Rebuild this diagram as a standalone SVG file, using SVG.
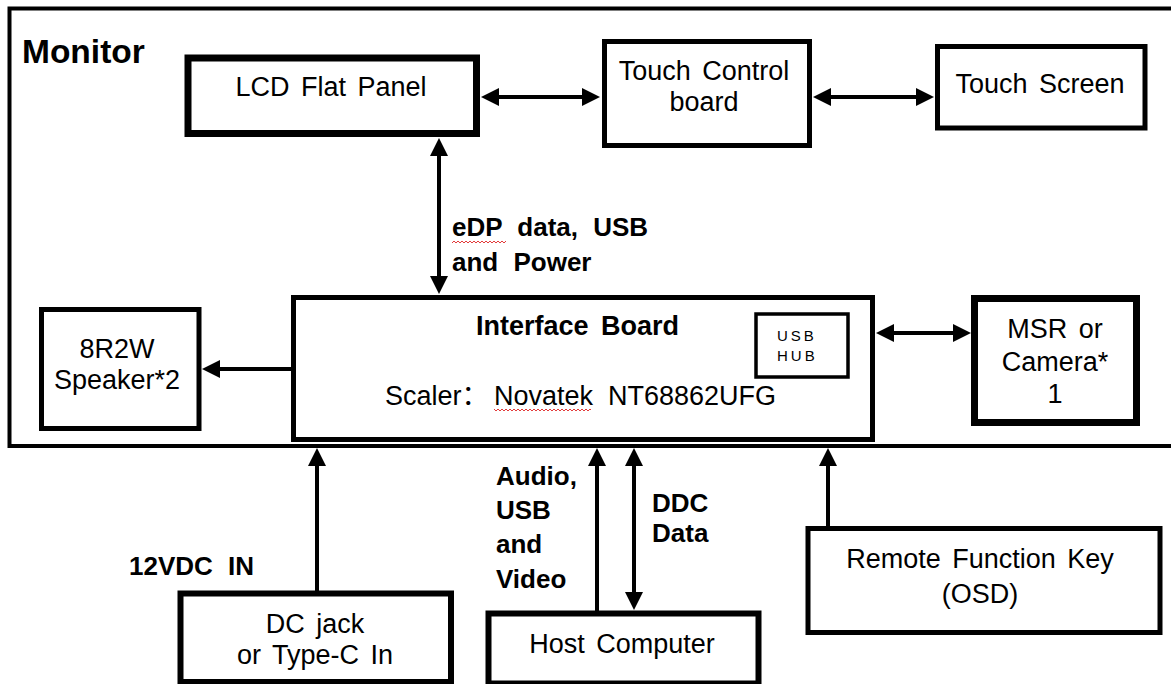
<svg xmlns="http://www.w3.org/2000/svg" width="1171" height="684" viewBox="0 0 1171 684">
<style>
text { font-family: "Liberation Sans", Arial, "Noto Sans CJK SC", sans-serif; fill: #000; }
.t { font-size: 27px; word-spacing: 4px; }
.c { text-anchor: middle; }
.b { font-weight: bold; font-size: 26px; word-spacing: 8px; }
.box { fill: #fff; stroke: #000; }
.conn line { stroke: #000; stroke-width: 4; }
</style>
<defs>
<marker id="ah" markerUnits="userSpaceOnUse" markerWidth="18" markerHeight="18" viewBox="0 0 18 18" refX="8" refY="9" orient="auto-start-reverse">
<path d="M0,0 L18,9 L0,18 Z" fill="#000"/>
</marker>
<pattern id="wave" patternUnits="userSpaceOnUse" width="4" height="4">
<path d="M0,3 L2,1 L4,3" fill="none" stroke="#e23b3b" stroke-width="1"/>
</pattern>
</defs>
<rect width="1171" height="684" fill="#fff"/>

<g id="monitor">
<rect x="9.5" y="8.5" width="1190" height="437.5" fill="none" stroke="#000" stroke-width="4"/>
<text x="22" y="63" style="font-weight:bold;font-size:33.5px">Monitor</text>
</g>

<g id="lcd">
<rect class="box" x="188" y="58" width="288.5" height="75.5" stroke-width="7"/>
<text class="t c" x="331" y="96">LCD Flat Panel</text>
</g>

<g id="touch-control">
<rect class="box" x="604.5" y="41.5" width="205" height="104" stroke-width="5"/>
<text class="t c" x="704" y="80">Touch Control</text>
<text class="t c" x="704" y="111">board</text>
</g>

<g id="touch-screen">
<rect class="box" x="937.5" y="46.5" width="207.5" height="81.5" stroke-width="5"/>
<text class="t c" x="1040" y="93">Touch Screen</text>
</g>

<g id="speaker">
<rect class="box" x="41.5" y="309.5" width="157.5" height="119" stroke-width="5"/>
<text class="t c" x="117" y="358">8R2W</text>
<text class="t c" x="117" y="389">Speaker*2</text>
</g>

<g id="interface-board">
<rect class="box" x="293.5" y="297.5" width="579" height="142" stroke-width="5"/>
<text x="476" y="335" style="font-weight:bold;font-size:27px;word-spacing:5px">Interface Board</text>
<text class="t" y="405"><tspan x="385">Scaler：</tspan><tspan x="494">Novatek</tspan><tspan x="608">NT68862UFG</tspan></text>
<rect x="494" y="408" width="97" height="4" fill="url(#wave)"/>
</g>

<g id="usb-hub">
<rect class="box" x="756" y="314" width="92" height="63" stroke-width="3.5"/>
<text x="777" y="341" style="font-size:15px;letter-spacing:3px">USB</text>
<text x="777" y="361" style="font-size:15px;letter-spacing:3px">HUB</text>
</g>

<g id="msr-camera">
<rect class="box" x="974.5" y="298.5" width="162" height="124" stroke-width="7"/>
<text class="t c" x="1055" y="338">MSR or</text>
<text class="t c" x="1055" y="371">Camera*</text>
<text class="t c" x="1055" y="403">1</text>
</g>

<g id="dc-jack">
<rect class="box" x="180.5" y="593.5" width="270.5" height="88.5" stroke-width="6"/>
<text class="t c" x="315" y="633">DC jack</text>
<text class="t c" x="315" y="664">or Type-C In</text>
</g>

<g id="host-computer">
<rect class="box" x="488.5" y="613.5" width="270" height="70" stroke-width="6"/>
<text class="t c" x="622" y="653">Host Computer</text>
</g>

<g id="remote-key">
<rect class="box" x="808" y="528.5" width="352" height="104" stroke-width="5"/>
<text class="t c" x="980" y="568">Remote Function Key</text>
<text class="t c" x="980" y="603">(OSD)</text>
</g>

<g id="connectors" class="conn">
<line x1="491" y1="97" x2="590" y2="97" marker-start="url(#ah)" marker-end="url(#ah)"/>
<line x1="823" y1="97" x2="924" y2="97" marker-start="url(#ah)" marker-end="url(#ah)"/>
<line x1="439" y1="148" x2="439" y2="284" marker-start="url(#ah)" marker-end="url(#ah)"/>
<line x1="292" y1="369" x2="212" y2="369" marker-end="url(#ah)"/>
<line x1="886" y1="333" x2="961" y2="333" marker-start="url(#ah)" marker-end="url(#ah)"/>
<line x1="317" y1="592" x2="317" y2="458" marker-end="url(#ah)"/>
<line x1="597" y1="612" x2="597" y2="458" marker-end="url(#ah)"/>
<line x1="634" y1="458" x2="634" y2="600" marker-start="url(#ah)" marker-end="url(#ah)"/>
<line x1="828" y1="527" x2="828" y2="458" marker-end="url(#ah)"/>
</g>

<g id="labels">
<text class="b" x="452" y="236">eDP data, USB</text>
<rect x="452" y="240" width="54" height="4" fill="url(#wave)"/>
<text class="b" x="452" y="271">and Power</text>
<text class="b" x="129" y="575">12VDC IN</text>
<text class="b" x="496" y="485">Audio,</text>
<text class="b" x="496" y="519">USB</text>
<text class="b" x="496" y="553">and</text>
<text class="b" x="496" y="588">Video</text>
<text class="b" x="652" y="512">DDC</text>
<text class="b" x="652" y="542">Data</text>
</g>
</svg>
